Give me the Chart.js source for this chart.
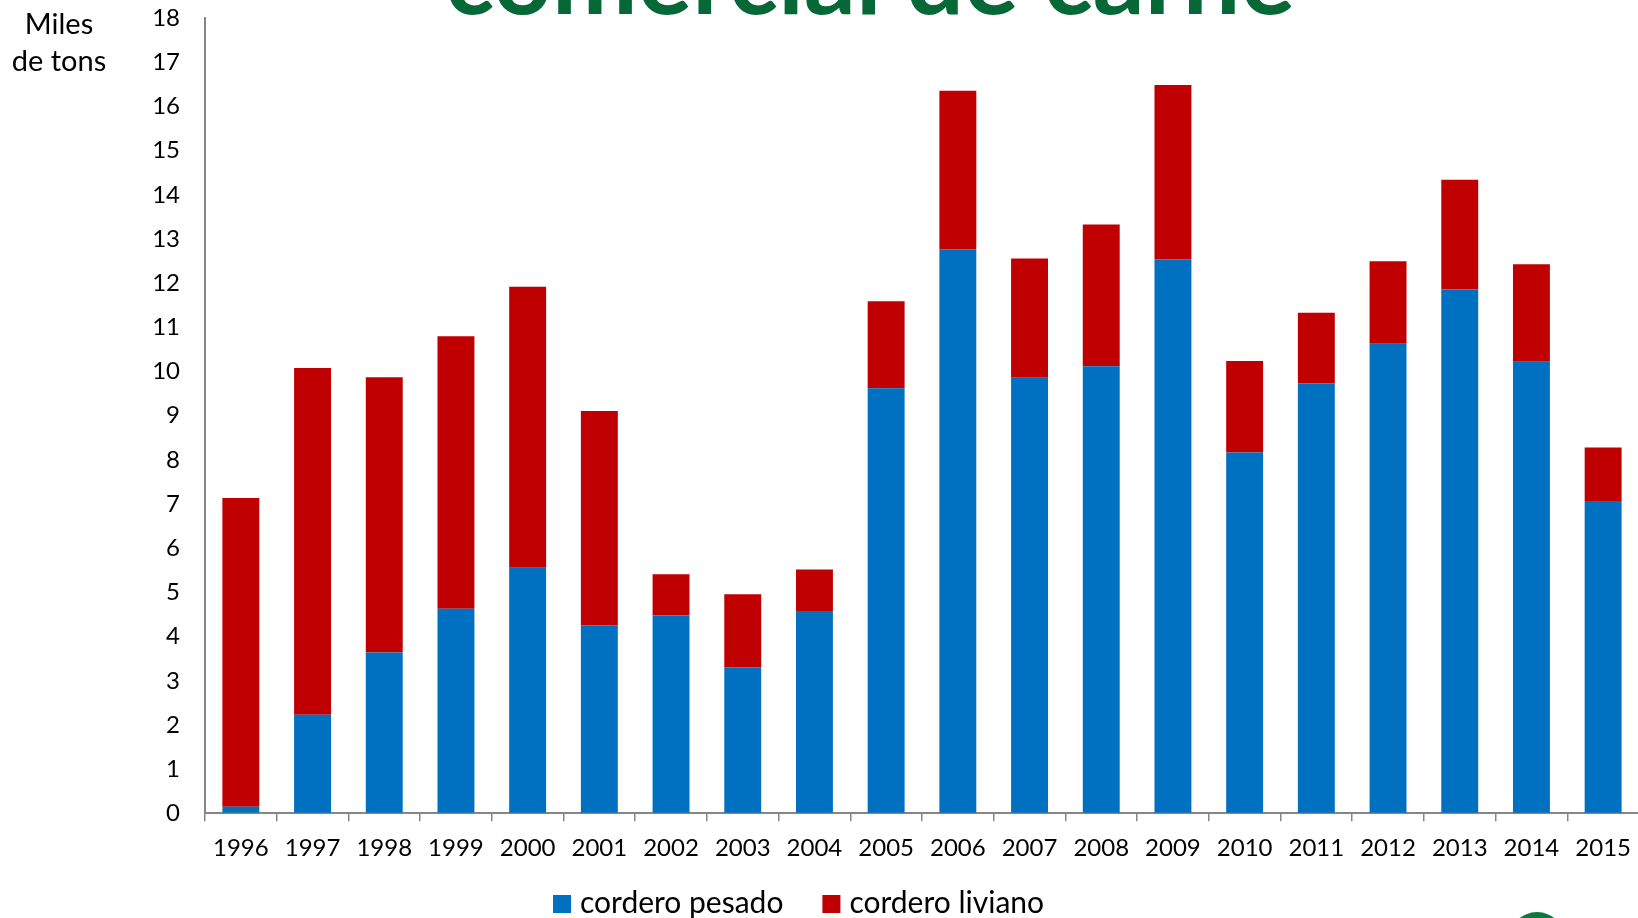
<!DOCTYPE html>
<html>
<head>
<meta charset="utf-8">
<script src="https://cdn.jsdelivr.net/npm/chart.js@4/dist/chart.umd.min.js"></script>
<style>
  html, body { margin: 0; padding: 0; background: #fff; overflow: hidden; }
  #wrap { width: 1644px; height: 918px; }
</style>
</head>
<body>
<div id="wrap"><canvas id="canvas" width="1644" height="918"></canvas></div>
<script>
// años
var years = ['1996', '1997', '1998', '1999', '2000', '2001', '2002', '2003', '2004', '2005',
             '2006', '2007', '2008', '2009', '2010', '2011', '2012', '2013', '2014', '2015'];

// miles de toneladas
var corderoPesado = [0.15, 2.23, 3.64, 4.63, 5.56, 4.26, 4.48, 3.30, 4.58, 9.62,
                     12.77, 9.86, 10.12, 12.54, 8.17, 9.73, 10.63, 11.86, 10.22, 7.07];
var corderoLiviano = [6.99, 7.85, 6.23, 6.17, 6.36, 4.85, 0.93, 1.66, 0.94, 1.97,
                      3.59, 2.70, 3.21, 3.95, 2.07, 1.60, 1.87, 2.48, 2.21, 1.21];

var seriesNames = ['cordero pesado', 'cordero liviano'];
var seriesColors = ['#0070C0', '#C00000'];
var yTicks = [0, 18, 1];   // min, max, paso

var titleText = 'comercial de carne';
var axisLabel = ['Miles', 'de tons'];

var font = 'Lato';
var axisGray = '#868686';

/* textos sueltos: título, unidad, leyenda */
var decor = {
    id: 'decor',
    afterDraw: function (chart) {
        var ctx = chart.ctx;
        ctx.save();

        // título cortado arriba
        ctx.font = 'bold 100px ' + font;
        var size = 100 * 850 / ctx.measureText(titleText).width;
        ctx.font = 'bold ' + size + 'px ' + font;
        ctx.fillStyle = '#066837';
        ctx.textAlign = 'left';
        ctx.textBaseline = 'alphabetic';
        ctx.fillText(titleText, 445, 14);

        // unidad
        ctx.font = '29px ' + font;
        ctx.fillStyle = '#000';
        ctx.textAlign = 'center';
        ctx.fillText(axisLabel[0], 59, 34);
        ctx.fillText(axisLabel[1], 59, 71);

        // leyenda
        ctx.font = '30px ' + font;
        ctx.textAlign = 'left';
        var x = 553;
        chart.data.datasets.forEach(function (ds) {
            ctx.fillStyle = ds.backgroundColor;
            ctx.fillRect(x, 895, 18, 18);
            ctx.fillStyle = '#000';
            ctx.fillText(ds.label, x + 27, 913);
            x += 27 + ctx.measureText(ds.label).width + 39;
        });

        // logo verde abajo a la derecha
        ctx.fillStyle = '#0a7a3a';
        ctx.beginPath();
        ctx.arc(1537, 940, 28, 0, Math.PI * 2);
        ctx.fill();

        ctx.restore();
    }
};

var config = {
    type: 'bar',
    data: {
        labels: years,
        datasets: [{
            label: seriesNames[0],
            data: corderoPesado,
            backgroundColor: seriesColors[0],
            borderWidth: 0
        }, {
            label: seriesNames[1],
            data: corderoLiviano,
            backgroundColor: seriesColors[1],
            borderWidth: 0
        }]
    },
    options: {
        responsive: false,
        animation: false,
        layout: { padding: { top: 18.2, left: 0, right: 1, bottom: 0 } },
        datasets: {
            bar: { categoryPercentage: 1.0, barPercentage: 0.515 }
        },
        plugins: {
            legend: { display: false },
            tooltip: { enabled: false },
            title: { display: false }
        },
        scales: {
            x: {
                stacked: true,
                grid: {
                    display: true,
                    drawOnChartArea: false,
                    drawTicks: true,
                    tickLength: 8,
                    color: axisGray,
                    lineWidth: 1.5,
                    offset: true
                },
                border: { display: true, color: axisGray, width: 2 },
                ticks: {
                    color: '#000',
                    font: { family: font, size: 24 },
                    padding: 13,
                    maxRotation: 0,
                    autoSkip: false
                },
                afterFit: function (scale) { scale.height = 918 - 813.3; }
            },
            y: {
                stacked: true,
                min: yTicks[0],
                max: yTicks[1],
                // marcas invisibles: solo dejan el hueco entre números y eje
                grid: {
                    display: true,
                    drawOnChartArea: false,
                    drawTicks: true,
                    tickLength: 25,
                    color: 'rgba(0,0,0,0)'
                },
                border: { display: true, color: axisGray, width: 2 },
                ticks: {
                    stepSize: yTicks[2],
                    color: '#000',
                    font: { family: font, size: 24 },
                    padding: 0
                },
                afterFit: function (scale) { scale.width = 205; }
            }
        }
    },
    plugins: [decor]
};

var ctx = document.getElementById('canvas').getContext('2d');
new Chart(ctx, config);
</script>
</body>
</html>
